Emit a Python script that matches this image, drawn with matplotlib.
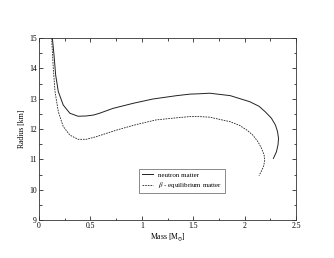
import matplotlib
matplotlib.use("Agg")
import matplotlib.pyplot as plt

# mass-radius curves
neutron_mass = [0.13, 0.146, 0.162, 0.188, 0.236, 0.30, 0.38, 0.46, 0.53, 0.59, 0.72,
                0.92, 1.11, 1.34, 1.47, 1.55, 1.66, 1.86, 2.05, 2.14, 2.20, 2.26, 2.30,
                2.32, 2.33, 2.325, 2.31, 2.28]
neutron_radius = [15.0, 14.44, 13.78, 13.23, 12.79, 12.52, 12.42, 12.43, 12.46, 12.52, 12.68,
                  12.85, 12.99, 13.1, 13.15, 13.16, 13.18, 13.1, 12.9, 12.75, 12.57, 12.36,
                  12.13, 11.92, 11.69, 11.48, 11.25, 11.03]

beta_mass = [0.123, 0.139, 0.156, 0.188, 0.236, 0.30, 0.38, 0.46, 0.56, 0.76, 0.95,
             1.14, 1.34, 1.47, 1.55, 1.66, 1.86, 1.95, 2.02, 2.08, 2.13, 2.165, 2.19,
             2.195, 2.185, 2.165, 2.14]
beta_radius = [15.0, 14.0, 13.23, 12.57, 12.08, 11.8, 11.66, 11.66, 11.75, 11.97, 12.15,
               12.3, 12.37, 12.41, 12.41, 12.39, 12.24, 12.12, 11.97, 11.8, 11.58, 11.36,
               11.14, 10.95, 10.78, 10.62, 10.46]

series_labels = ["neutron matter", r"$\beta$ - equilibrium matter"]
x_ticks = [0, 0.5, 1, 1.5, 2, 2.5]
x_tick_labels = ["0", "0.5", "1", "1.5", "2", "2.5"]
y_ticks = [9, 10, 11, 12, 13, 14, 15]

plt.rcParams["font.family"] = ["Liberation Serif", "DejaVu Serif"]
plt.rcParams["mathtext.fontset"] = "stix"

fig = plt.figure(figsize=(3.34, 2.58), dpi=100)
ax = fig.add_axes([39 / 334, 1 - 220 / 258, 257 / 334, 182 / 258])

ax.plot(neutron_mass, neutron_radius, color="#222222", linewidth=0.7,
        linestyle="-", label=series_labels[0])
ax.plot(beta_mass, beta_radius, color="#222222", linewidth=0.6,
        linestyle=(0, (2.0, 1.2)), label=series_labels[1])

ax.set_xlim(0, 2.5)
ax.set_ylim(9, 15)
ax.set_xticks(x_ticks, x_tick_labels)
ax.set_xticks([0.25, 0.75, 1.25, 1.75, 2.25], minor=True)
ax.set_yticks(y_ticks, [str(v) for v in y_ticks])
ax.set_yticks([9.5, 10.5, 11.5, 12.5, 13.5, 14.5], minor=True)
ax.tick_params(which="both", direction="in", top=True, right=True,
               labelsize=5.5, width=0.5, pad=1.5)
ax.tick_params(which="major", length=3)
ax.tick_params(which="minor", length=1.8)
for spine in ax.spines.values():
    spine.set_linewidth(0.6)
    spine.set_color("#333333")

ax.set_xlabel(r"Mass [M$_{\odot}$]", fontsize=5.5, labelpad=1)
ax.set_ylabel("Radius [km]", fontsize=5.5, labelpad=2)

leg = ax.legend(loc="lower left", bbox_to_anchor=(0.39, 0.148), fontsize=5,
                frameon=True, fancybox=False, edgecolor="#333333",
                handlelength=1.5, borderpad=0.45, labelspacing=0.35,
                handletextpad=0.7, borderaxespad=0)
leg.get_frame().set_linewidth(0.5)

fig.savefig("out.png", dpi=100)
